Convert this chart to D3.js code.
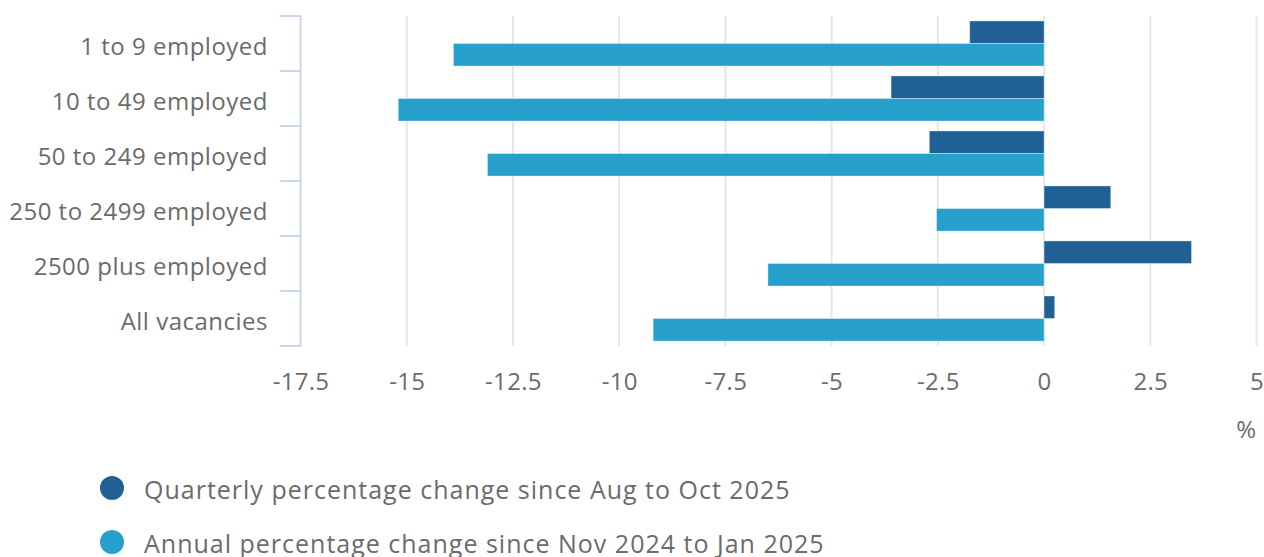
<!DOCTYPE html>
<html><head><meta charset="utf-8">
<script src="https://cdn.jsdelivr.net/npm/d3@7"></script>
<style>
html,body{margin:0;padding:0;background:#fff;}
svg{display:block;font-family:"Open Sans",sans-serif;}
</style></head>
<body>
<svg id="chart" width="1264" height="557"></svg>
<script>
const categories = ["1 to 9 employed","10 to 49 employed","50 to 249 employed","250 to 2499 employed","2500 plus employed","All vacancies"];
const seriesNames = ["Quarterly percentage change since Aug to Oct 2025","Annual percentage change since Nov 2024 to Jan 2025"];
const quarterly = [-1.75, -3.6, -2.7, 1.57, 3.47, 0.25];
const annual = [-13.9, -15.2, -13.1, -2.53, -6.5, -9.2];
const xTicks = [-17.5,-15,-12.5,-10,-7.5,-5,-2.5,0,2.5,5];
const colors = ["#206095","#27a0cc"];

const svg = d3.select("#chart");
const x = d3.scaleLinear().domain([-17.5,5]).range([300.5,1256.5]);
const y = d3.scaleBand().domain(categories).range([16,346]).paddingInner(0.18).paddingOuter(0.09);
const y1 = d3.scaleBand().domain([0,1]).range([0,y.bandwidth()]);
const series = [quarterly, annual];

// gridlines
svg.append("g").selectAll("line").data(xTicks.slice(1)).join("line")
  .attr("x1",d=>x(d)).attr("x2",d=>x(d)).attr("y1",16).attr("y2",346)
  .attr("stroke","#e6e6e6").attr("stroke-width",2);

// bars
series.forEach((vals,si)=>{
  svg.append("g").selectAll("rect").data(vals).join("rect")
    .attr("x",d=>x(Math.min(0,d)))
    .attr("width",d=>Math.abs(x(d)-x(0)))
    .attr("y",(d,i)=>y(categories[i])+y1(si))
    .attr("height",y1.bandwidth())
    .attr("fill",colors[si])
    .attr("stroke","rgba(255,255,255,0.35)").attr("stroke-width",1);
});

// y axis line and ticks (between categories)
const yAxisG = svg.append("g");
yAxisG.append("line").attr("x1",300.5).attr("x2",300.5).attr("y1",16).attr("y2",346)
  .attr("stroke","#ccd6eb").attr("stroke-width",2);
const bounds = categories.map(c=>y(c)-y.step()*y.paddingInner()/2).concat([346]);
bounds[0]=16;
yAxisG.selectAll("line.tk").data(bounds).join("line").attr("class","tk")
  .attr("x1",280).attr("x2",301).attr("y1",d=>d).attr("y2",d=>d)
  .attr("stroke","#ccd6eb").attr("stroke-width",2);
yAxisG.selectAll("text").data(categories).join("text")
  .attr("x",268).attr("y",d=>y(d)+y.bandwidth()/2+2)
  .attr("text-anchor","end").attr("dominant-baseline","central")
  .attr("font-size","24px").attr("letter-spacing","0.5px").attr("fill","#6b6b6b").text(d=>d);

// x axis labels
const xAxis = d3.axisBottom(x).tickValues(xTicks).tickSize(0).tickPadding(0)
  .tickFormat(d=>String(d));
const xg = svg.append("g").attr("transform","translate(0,374)").call(xAxis);
xg.select(".domain").remove();
xg.selectAll("text").attr("font-size","24px").attr("letter-spacing","0.3px").attr("fill","#6b6b6b")
  .attr("font-family","'Open Sans',sans-serif").attr("dy","0.35em").attr("y",8);

svg.append("text").attr("x",1256).attr("y",428).attr("text-anchor","end")
  .attr("dominant-baseline","central").attr("font-size","24px").attr("fill","#6b6b6b").text("%");

// legend
const lg = svg.append("g");
seriesNames.forEach((n,i)=>{
  const cy = 488 + i*54;
  lg.append("circle").attr("cx",112).attr("cy",cy).attr("r",12).attr("fill",colors[i]);
  lg.append("text").attr("x",144).attr("y",cy+1).attr("dominant-baseline","central")
    .attr("font-size","25px").attr("letter-spacing","1px").attr("fill","#6b6b6b").text(n);
});
</script>
</body></html>
